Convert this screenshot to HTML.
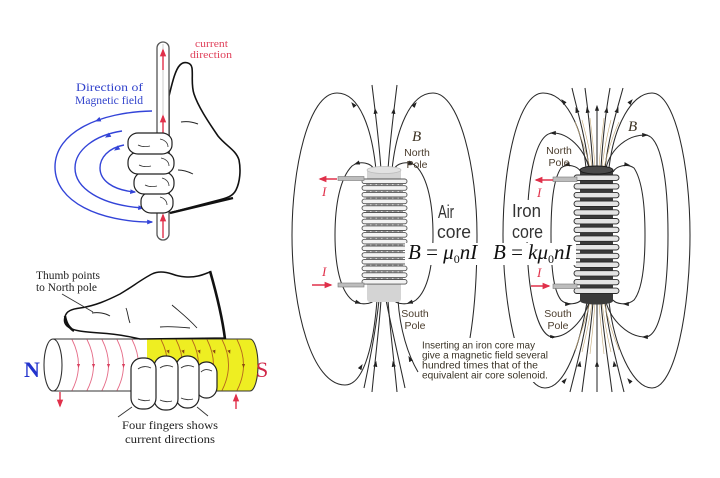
<!DOCTYPE html>
<html><head><meta charset="utf-8"><style>
html,body{margin:0;padding:0;background:#fff;}
svg{display:block;}
</style></head><body>
<svg width="720" height="478" viewBox="0 0 720 478" xmlns="http://www.w3.org/2000/svg">
<defs>
<marker id="a" viewBox="0 0 10 10" refX="8" refY="5" markerWidth="6" markerHeight="6" markerUnits="userSpaceOnUse" orient="auto"><path d="M0,1.5 L10,5 L0,8.5 z" fill="#222"/></marker>
<marker id="ar" viewBox="0 0 10 10" refX="8" refY="5" markerWidth="8" markerHeight="8" markerUnits="userSpaceOnUse" orient="auto"><path d="M0,1 L10,5 L0,9 z" fill="#e0304a"/></marker>
<marker id="ab" viewBox="0 0 10 10" refX="8" refY="5" markerWidth="6" markerHeight="6" markerUnits="userSpaceOnUse" orient="auto"><path d="M0,1 L10,5 L0,9 z" fill="#3344d8"/></marker>
<marker id="ap" viewBox="0 0 10 10" refX="5" refY="5" markerWidth="4" markerHeight="4" markerUnits="userSpaceOnUse" orient="auto"><path d="M0,1 L10,5 L0,9 z" fill="#d8405e"/></marker>
<marker id="ay" viewBox="0 0 10 10" refX="5" refY="5" markerWidth="4" markerHeight="4" markerUnits="userSpaceOnUse" orient="auto"><path d="M0,1 L10,5 L0,9 z" fill="#8a4a10"/></marker>
<g id="ta">
<rect x="362" y="0" width="45" height="4.6" rx="2.3" fill="#f3f3f3" stroke="#555" stroke-width="0.9"/>
<line x1="366" y1="5.7" x2="403" y2="5.7" stroke="#777" stroke-width="0.8" stroke-dasharray="4 1.5"/>
</g>
<g id="ti">
<rect x="574" y="0" width="45" height="5.4" rx="2.7" fill="#e4e4e4" stroke="#2a2a2a" stroke-width="0.9"/>
</g>
</defs>

<!-- ============ TOP-LEFT: right hand rule with wire ============ -->
<g fill="none" stroke="#3344d8" stroke-width="1.4">
<path d="M152,111 C100,112 55,132 55,167 C55,202 100,222 152,222" marker-end="url(#ab)"/>
<path d="M122,131 C95,135 75,150 75,168 C75,188 100,205 143,208" marker-end="url(#ab)"/>
<path d="M124,145 C108,148 100,158 100,168 C100,180 112,190 135,192" marker-end="url(#ab)"/>
</g>
<path d="M103,118 L96,121" stroke="none" marker-end="url(#ab)"/>
<path d="M113,133 L106,137" stroke="none" marker-end="url(#ab)"/>
<path d="M121,146 L115,150" stroke="none" marker-end="url(#ab)"/>

<path d="M169,96 C172,84 175,70 180,65 C184,61 191,62 192,68 C193,76 191,85 194,94 C198,106 207,120 218,136 C226,146 236,150 239,160 C241,170 240,182 236,190 C233,196 228,198 215,201 L169,213 Z" fill="#fff" stroke="#111" stroke-width="1.6"/>
<path d="M170,213 L233,198" stroke="#111" stroke-width="2.4" fill="none"/>
<path d="M181,122 C187,121 193,122 198,124" stroke="#222" stroke-width="1" fill="none"/>
<path d="M178,170 C184,170 189,172 193,174" stroke="#222" stroke-width="0.9" fill="none"/>

<rect x="157" y="42" width="12" height="198" rx="6" fill="#fff" stroke="#555" stroke-width="1.3"/>
<line x1="163" y1="44" x2="163" y2="238" stroke="#aaa" stroke-width="0.6"/>
<g stroke="#e0304a" stroke-width="1.4">
<line x1="163" y1="70" x2="163" y2="50" marker-end="url(#ar)"/>
<line x1="163" y1="136" x2="163" y2="116" marker-end="url(#ar)"/>
<line x1="163" y1="238" x2="163" y2="215" marker-end="url(#ar)"/>
</g>

<g fill="#fff" stroke="#222" stroke-width="1.2">
<rect x="141" y="192" width="32" height="21" rx="10" ry="9"/>
<rect x="134" y="172" width="40" height="22" rx="10" ry="10"/>
<rect x="128" y="152" width="46" height="22" rx="10" ry="10"/>
<rect x="128" y="133" width="44" height="21" rx="10" ry="9"/>
</g>
<g fill="none" stroke="#333" stroke-width="0.8">
<path d="M160,139 C165,140 168,143 168,147"/>
<path d="M161,158 C166,159 169,162 169,166"/>
<path d="M162,178 C166,179 169,182 169,186"/>
<path d="M160,197 C164,198 167,201 167,205"/>
<path d="M138,145 C142,147 146,147 150,146"/>
<path d="M139,165 C143,167 147,167 151,166"/>
<path d="M145,185 C149,187 153,187 157,186"/>
</g>

<text x="195" y="47" fill="#e0405a" font-family="Liberation Serif, serif" font-size="10.5" textLength="33" lengthAdjust="spacingAndGlyphs">current</text>
<text x="190" y="58" fill="#e0405a" font-family="Liberation Serif, serif" font-size="10.5" textLength="42" lengthAdjust="spacingAndGlyphs">direction</text>
<text x="76" y="91" fill="#3344cc" font-family="Liberation Serif, serif" font-size="12" textLength="67" lengthAdjust="spacingAndGlyphs">Direction of</text>
<text x="75" y="104" fill="#3344cc" font-family="Liberation Serif, serif" font-size="12" textLength="68" lengthAdjust="spacingAndGlyphs">Magnetic field</text>

<!-- ============ BOTTOM-LEFT: solenoid cylinder ============ -->
<rect x="53" y="339" width="197" height="52" fill="#fff" stroke="none"/>
<path d="M147,339 L250,339 A8,26 0 0 1 250,391 L147,391 Z" fill="#eeee22"/>
<line x1="53" y1="339" x2="250" y2="339" stroke="#333" stroke-width="1.1"/>
<line x1="53" y1="391" x2="250" y2="391" stroke="#333" stroke-width="1.1"/>
<path d="M250,339 A8,26 0 0 1 250,391" fill="none" stroke="#333" stroke-width="1.1"/>
<ellipse cx="53" cy="365" rx="9" ry="26" fill="#fff" stroke="#333" stroke-width="1.1"/>
<g fill="none" stroke="#e56a86" stroke-width="0.9">
<path d="M72,339.5 Q85,365 72,390.5"/><path d="M87,339.5 Q100,365 87,390.5"/><path d="M102,339.5 Q115,365 102,390.5"/><path d="M117,339.5 Q130,365 117,390.5"/><path d="M132,339.5 Q145,365 132,390.5"/>
</g>
<g fill="none" stroke="#b5651d" stroke-width="0.9">
<path d="M161,339.5 Q174,365 161,390.5"/><path d="M176,339.5 Q189,365 176,390.5"/><path d="M192,339.5 Q205,365 192,390.5"/><path d="M207,339.5 Q220,365 207,390.5"/><path d="M222,339.5 Q235,365 222,390.5"/><path d="M237,339.5 Q250,365 237,390.5"/>
</g>
<g stroke="none">
<path d="M78.5,362 L78.5,366" marker-end="url(#ap)"/><path d="M93.5,362 L93.5,366" marker-end="url(#ap)"/><path d="M108.5,362 L108.5,366" marker-end="url(#ap)"/><path d="M123.5,362 L123.5,366" marker-end="url(#ap)"/>
<path d="M167.5,349 L168.5,352" marker-end="url(#ay)"/><path d="M182.5,349 L183.5,352" marker-end="url(#ay)"/><path d="M198.5,349 L199.5,352" marker-end="url(#ay)"/><path d="M213.5,349 L214.5,352" marker-end="url(#ay)"/><path d="M228.5,349 L229.5,352" marker-end="url(#ay)"/><path d="M243.5,362 L243.5,366" marker-end="url(#ay)"/>
</g>
<g stroke="#e0304a" stroke-width="1.4">
<line x1="60" y1="392" x2="60" y2="406" marker-end="url(#ar)"/>
<line x1="236" y1="409" x2="236" y2="395" marker-end="url(#ar)"/>
</g>

<path d="M65,317 C66,311 72,309 80,308 C95,306 108,300 120,294 C132,287 142,279 152,274 C158,271 166,272 172,274 C180,277 190,278 198,276 C203,275 207,273 210,272 C216,292 222,315 225,338 L140,339 C130,337 120,334 100,333 C85,332 72,331 67,326 C64,323 64,320 65,317 Z" fill="#fff" stroke="#111" stroke-width="1.5"/>
<path d="M210,271 C216,292 222,315 225,339" fill="none" stroke="#111" stroke-width="2.6"/>
<path d="M65,316 C66,322 68,327 74,331" fill="none" stroke="#111" stroke-width="2.4"/>
<g fill="none" stroke="#222" stroke-width="0.9">
<path d="M126,308 C128,313 128,318 130,323"/>
<path d="M172,305 C180,312 188,318 197,328"/>
<path d="M160,327 C170,326 180,327 190,328"/>
<path d="M92,313 C98,312 105,313 110,316"/>
</g>

<g fill="#fff" stroke="#222" stroke-width="1.2">
<rect x="196" y="362" width="21" height="36" rx="10" ry="11"/>
<rect x="176" y="356" width="23" height="52" rx="11" ry="11"/>
<rect x="154" y="356" width="24" height="54" rx="11" ry="11"/>
<rect x="131" y="358" width="25" height="51" rx="11" ry="11"/>
</g>
<g fill="none" stroke="#333" stroke-width="0.9">
<path d="M138,369 C142,366 147,366 151,368"/>
<path d="M160,368 C164,365 169,365 173,367"/>
<path d="M181,368 C185,365 190,365 194,367"/>
<path d="M201,372 C204,369 208,369 212,371"/>
<path d="M138,399 C142,401 147,401 150,400"/>
<path d="M160,400 C164,402 169,402 172,401"/>
<path d="M181,398 C185,400 190,400 193,399"/>
</g>
<g stroke="#333" stroke-width="0.9">
<line x1="62" y1="294" x2="93" y2="312"/>
<line x1="118" y1="417" x2="132" y2="407"/>
<line x1="208" y1="416" x2="197" y2="407"/>
</g>
<text x="36" y="279" fill="#222" font-family="Liberation Serif, serif" font-size="11.5" textLength="64" lengthAdjust="spacingAndGlyphs">Thumb points</text>
<text x="36" y="291" fill="#222" font-family="Liberation Serif, serif" font-size="11.5" textLength="61" lengthAdjust="spacingAndGlyphs">to North pole</text>
<text x="24" y="377" fill="#2233cc" font-family="Liberation Serif, serif" font-size="22" font-weight="bold">N</text>
<text x="256" y="377" fill="#d02648" font-family="Liberation Serif, serif" font-size="22">S</text>
<text x="122" y="429" fill="#222" font-family="Liberation Serif, serif" font-size="11.5" textLength="96" lengthAdjust="spacingAndGlyphs">Four fingers shows</text>
<text x="125" y="443" fill="#222" font-family="Liberation Serif, serif" font-size="11.5" textLength="90" lengthAdjust="spacingAndGlyphs">current directions</text>

<!-- ============ RIGHT: air core solenoid ============ -->
<g fill="none" stroke="#2a2a2a" stroke-width="1.05">
<path d="M376,170 C372,130 360,93 337,93 C308,93 292,170 292,235 C292,310 312,385 345,385 C365,385 374,340 377,300"/>
<path d="M392,170 C396,130 410,93 433,93 C460,93 477,170 477,235 C477,290 473,320 470,338"/>
<path d="M398,300 C400,330 408,355 418,372"/>
<path d="M374,170 C372,163 360,160 352,166 C340,178 335,205 335,235 C335,265 340,290 352,300 C360,306 372,304 374,300"/>
<path d="M394,170 C396,163 408,160 416,166 C428,178 433,205 433,235 C433,265 428,290 416,300 C408,306 396,304 394,300"/>
<path d="M381,170 C379,140 375,110 372,85"/>
<path d="M388,170 C390,140 394,110 397,85"/>
<path d="M372,392 C375,360 379,330 381,300"/>
<path d="M397,392 C394,360 390,330 388,300"/>
<path d="M364,388 C370,360 376,330 379,300"/>
<path d="M405,388 C399,360 392,330 386,300"/>
</g>
<g stroke="none">
<path d="M356,108 L352,103" marker-end="url(#a)"/>
<path d="M358,372 L362,365" marker-end="url(#a)"/>
<path d="M412,108 L416,103" marker-end="url(#a)"/>
<path d="M411,361 L409,357" marker-end="url(#a)"/>
<path d="M361,162 L355,164" marker-end="url(#a)"/>
<path d="M353,301 L360,303" marker-end="url(#a)"/>
<path d="M407,162 L413,164" marker-end="url(#a)"/>
<path d="M415,301 L408,303" marker-end="url(#a)"/>
<path d="M376,116 L375,109" marker-end="url(#a)"/>
<path d="M393,116 L394,109" marker-end="url(#a)"/>
<path d="M375,368 L376,362" marker-end="url(#a)"/>
<path d="M394,368 L393,362" marker-end="url(#a)"/>
</g>
<rect x="367" y="168" width="34" height="134" rx="3" fill="#d4d4d4"/>
<ellipse cx="384" cy="170" rx="17" ry="3.5" fill="#e2e2e2" stroke="#bbb" stroke-width="0.7"/>
<use href="#ta" y="179"/><use href="#ta" y="185.7"/><use href="#ta" y="192.4"/><use href="#ta" y="199.1"/>
<use href="#ta" y="205.8"/><use href="#ta" y="212.5"/><use href="#ta" y="219.2"/><use href="#ta" y="225.9"/>
<use href="#ta" y="232.6"/><use href="#ta" y="239.3"/><use href="#ta" y="246"/><use href="#ta" y="252.7"/>
<use href="#ta" y="259.4"/><use href="#ta" y="266.1"/><use href="#ta" y="272.8"/>
<rect x="362" y="279.5" width="45" height="4.6" rx="2.3" fill="#f3f3f3" stroke="#555" stroke-width="0.9"/>
<rect x="338" y="176.5" width="26" height="4" fill="#bdbdbd" stroke="#777" stroke-width="0.6"/>
<rect x="338" y="283" width="26" height="4" fill="#bdbdbd" stroke="#777" stroke-width="0.6"/>
<g stroke="#e0304a" stroke-width="1.5">
<line x1="337" y1="179" x2="320" y2="179" marker-end="url(#ar)"/>
<line x1="312" y1="285" x2="331" y2="285" marker-end="url(#ar)"/>
</g>
<text x="322" y="196" fill="#e0304a" font-family="Liberation Serif, serif" font-style="italic" font-size="13">I</text>
<text x="322" y="276" fill="#e0304a" font-family="Liberation Serif, serif" font-style="italic" font-size="13">I</text>

<text x="412" y="141" fill="#3a3020" font-family="Liberation Serif, serif" font-style="italic" font-size="15">B</text>
<g font-family="Liberation Sans, sans-serif" font-size="10.5" fill="#4a3c2c" text-anchor="middle">
<text x="417" y="156">North</text><text x="417" y="168">Pole</text>
<text x="415" y="317">South</text><text x="415" y="329">Pole</text>
</g>
<rect x="436" y="200" width="38" height="42" fill="#fff"/>
<text x="438" y="218" fill="#333" font-family="Liberation Sans, sans-serif" font-size="18" textLength="16" lengthAdjust="spacingAndGlyphs">Air</text>
<text x="437" y="238" fill="#333" font-family="Liberation Sans, sans-serif" font-size="18" textLength="34" lengthAdjust="spacingAndGlyphs">core</text>
<rect x="405" y="243" width="80" height="22" fill="#fff"/>
<text x="408" y="259" fill="#111" font-family="Liberation Serif, serif" font-size="21"><tspan font-style="italic">B</tspan> = <tspan font-style="italic">μ</tspan><tspan font-size="12" dy="4">0</tspan><tspan font-style="italic" dy="-4">nI</tspan></text>

<!-- ============ RIGHT: iron core solenoid ============ -->
<g fill="none" stroke="#2a2a2a" stroke-width="1.05">
<path d="M586,168 C582,125 565,93 543,93 C518,93 503,165 503,235 C503,310 520,388 545,388 C565,388 580,345 587,302"/>
<path d="M589,168 C584,148 568,133 553,133 C535,133 527,180 527,235 C527,290 537,337 553,337 C568,337 584,320 589,302"/>
<path d="M581,172 C578,166 567,163 561,168 C553,180 551,205 551,235 C551,265 553,290 561,300 C567,306 578,304 581,300"/>
<path d="M613,172 C616,166 627,163 634,168 C642,180 645,205 645,235 C645,265 642,290 634,300 C627,306 616,304 613,300"/>
<path d="M606,168 C611,148 628,135 645,135 C661,135 668,180 668,235 C668,290 661,337 645,337 C628,337 611,320 606,302"/>
<path d="M609,168 C614,125 632,93 652,93 C675,93 690,165 690,235 C690,310 675,388 652,388 C632,388 614,345 609,302"/>
<path d="M589,168 C585,135 577,110 572,88"/>
<path d="M593,168 C591,135 588,110 585,88"/>
<path d="M601,168 C603,135 606,110 610,88"/>
<path d="M605,168 C609,135 617,110 623,88"/>
<path d="M597,168 L597,106" marker-end="url(#a)"/>
<path d="M570,392 C578,360 586,330 589,302"/>
<path d="M582,392 C586,360 591,330 593,302"/>
<path d="M597,392 L597,302"/>
<path d="M612,392 C608,360 603,330 601,302"/>
<path d="M624,392 C616,360 608,330 605,302"/>
</g>
<g fill="none" stroke="#c2a878" stroke-width="0.6">
<path d="M590,168 C586,150 580,135 575,122"/>
<path d="M592,168 C590,150 586,135 582,120"/>
<path d="M595,168 C594,150 592,135 590,118"/>
<path d="M599,168 C600,150 602,135 604,118"/>
<path d="M602,168 C604,150 607,135 611,120"/>
<path d="M604,168 C608,150 613,135 619,122"/>
<path d="M590,302 C586,320 580,335 575,350"/>
<path d="M592,302 C590,320 586,335 582,352"/>
<path d="M595,302 C594,320 592,335 590,354"/>
<path d="M599,302 C600,320 602,335 604,354"/>
<path d="M602,302 C604,320 607,335 611,352"/>
<path d="M604,302 C608,320 613,335 619,350"/>
</g>
<g stroke="none">
<path d="M567,106 L562,100" marker-end="url(#a)"/>
<path d="M561,385 L566,379" marker-end="url(#a)"/>
<path d="M557,133 L551,133" marker-end="url(#a)"/>
<path d="M549,337 L555,337" marker-end="url(#a)"/>
<path d="M571,164 L565,165" marker-end="url(#a)"/>
<path d="M564,304 L570,304" marker-end="url(#a)"/>
<path d="M623,164 L629,165" marker-end="url(#a)"/>
<path d="M630,304 L624,304" marker-end="url(#a)"/>
<path d="M641,135 L647,135" marker-end="url(#a)"/>
<path d="M649,337 L643,337" marker-end="url(#a)"/>
<path d="M627,106 L632,100" marker-end="url(#a)"/>
<path d="M633,385 L628,379" marker-end="url(#a)"/>
<path d="M578,114 L576,108" marker-end="url(#a)"/>
<path d="M588,114 L587,108" marker-end="url(#a)"/>
<path d="M606,114 L607,108" marker-end="url(#a)"/>
<path d="M616,114 L618,108" marker-end="url(#a)"/>
<path d="M579,368 L580,362" marker-end="url(#a)"/>
<path d="M597,368 L597,362" marker-end="url(#a)"/>
<path d="M615,368 L614,362" marker-end="url(#a)"/>
</g>
<rect x="580" y="170" width="33" height="131" fill="#3a3a3a"/>
<ellipse cx="596.5" cy="301" rx="16.5" ry="3.5" fill="#3a3a3a"/>
<ellipse cx="596.5" cy="170" rx="16.5" ry="4" fill="#4a4a4a" stroke="#1a1a1a" stroke-width="0.9"/>
<use href="#ti" y="175"/><use href="#ti" y="183.7"/><use href="#ti" y="192.4"/><use href="#ti" y="201.1"/>
<use href="#ti" y="209.8"/><use href="#ti" y="218.5"/><use href="#ti" y="227.2"/><use href="#ti" y="235.9"/>
<use href="#ti" y="244.6"/><use href="#ti" y="253.3"/><use href="#ti" y="262"/><use href="#ti" y="270.7"/>
<use href="#ti" y="279.4"/><use href="#ti" y="288.1"/>
<rect x="553" y="177" width="24" height="4.5" fill="#bdbdbd" stroke="#777" stroke-width="0.6"/>
<rect x="553" y="284" width="24" height="4.5" fill="#bdbdbd" stroke="#777" stroke-width="0.6"/>
<g stroke="#e0304a" stroke-width="1.5">
<line x1="553" y1="180" x2="536" y2="180" marker-end="url(#ar)"/>
<line x1="531" y1="286" x2="549" y2="286" marker-end="url(#ar)"/>
</g>
<text x="537" y="197" fill="#e0304a" font-family="Liberation Serif, serif" font-style="italic" font-size="13">I</text>
<text x="537" y="277" fill="#e0304a" font-family="Liberation Serif, serif" font-style="italic" font-size="13">I</text>

<text x="628" y="131" fill="#3a3020" font-family="Liberation Serif, serif" font-style="italic" font-size="15">B</text>
<g font-family="Liberation Sans, sans-serif" font-size="10.5" fill="#4a3c2c" text-anchor="middle">
<text x="559" y="154">North</text><text x="559" y="166">Pole</text>
<text x="558" y="317">South</text><text x="558" y="329">Pole</text>
</g>
<rect x="509" y="200" width="37" height="42" fill="#fff"/>
<text x="512" y="217" fill="#333" font-family="Liberation Sans, sans-serif" font-size="18" textLength="29" lengthAdjust="spacingAndGlyphs">Iron</text>
<text x="512" y="238" fill="#333" font-family="Liberation Sans, sans-serif" font-size="18" textLength="31" lengthAdjust="spacingAndGlyphs">core</text>
<rect x="491" y="243" width="85" height="22" fill="#fff"/>
<text x="493" y="259" fill="#111" font-family="Liberation Serif, serif" font-size="21"><tspan font-style="italic">B</tspan> = <tspan font-style="italic">kμ</tspan><tspan font-size="12" dy="4">0</tspan><tspan font-style="italic" dy="-4">nI</tspan></text>

<rect x="420" y="338" width="132" height="44" fill="#fff"/>
<g font-family="Liberation Sans, sans-serif" font-size="10" fill="#3a3326">
<text x="422" y="348.5" textLength="113" lengthAdjust="spacingAndGlyphs">Inserting an iron core may</text>
<text x="422" y="358.5" textLength="126" lengthAdjust="spacingAndGlyphs">give a magnetic field several</text>
<text x="422" y="368.5" textLength="116" lengthAdjust="spacingAndGlyphs">hundred times that of the</text>
<text x="422" y="378.5" textLength="126" lengthAdjust="spacingAndGlyphs">equivalent air core solenoid.</text>
</g>
</svg>
</body></html>
